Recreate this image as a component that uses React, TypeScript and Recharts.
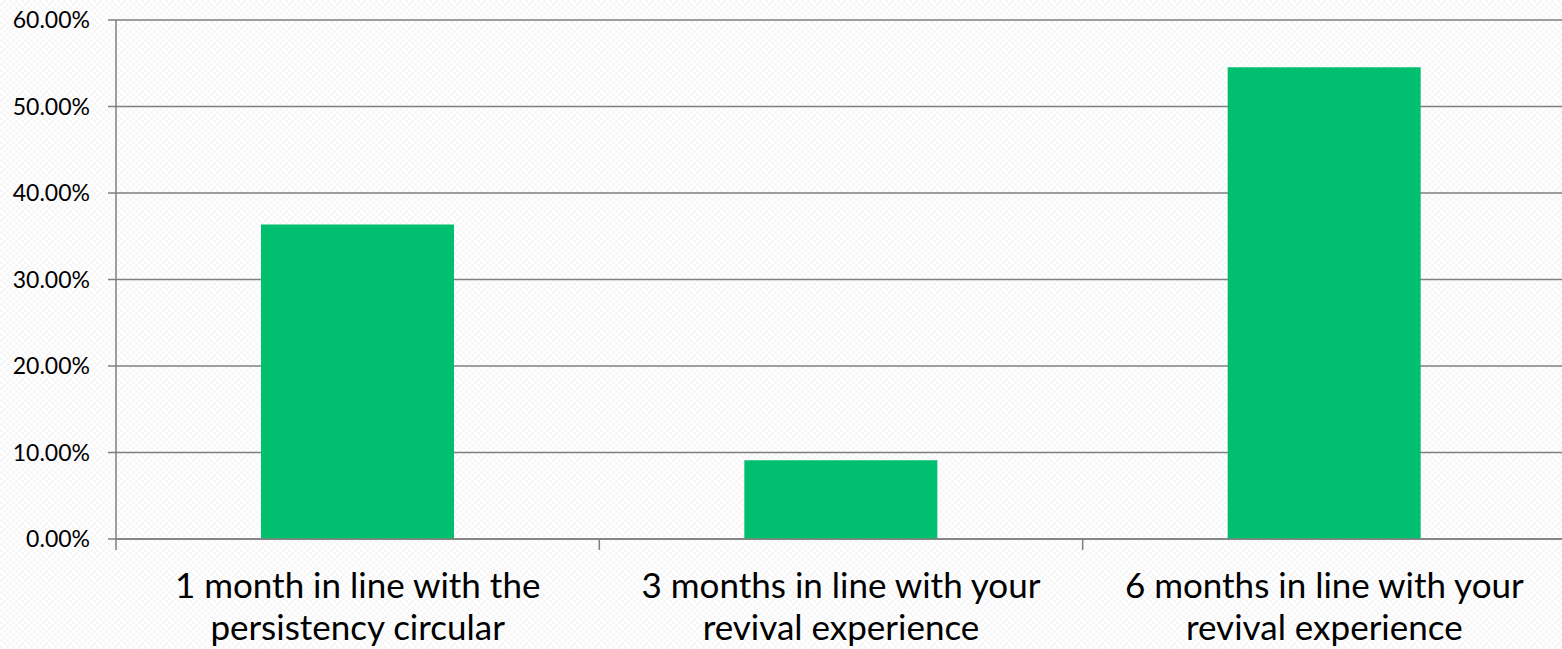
import React from "react";
import { BarChart, Bar, XAxis, YAxis, CartesianGrid } from "recharts";

const categories = [
  "1 month in line with the persistency circular",
  "3 months in line with your revival experience",
  "6 months in line with your revival experience",
];
const labelLines = [
  ["1 month in line with the", "persistency circular"],
  ["3 months in line with your", "revival experience"],
  ["6 months in line with your", "revival experience"],
];
const values = [0.3636, 0.0909, 0.5455];
const yTicks = [0, 0.1, 0.2, 0.3, 0.4, 0.5, 0.6];

const data = categories.map((c, i) => ({ name: c, idx: i, value: values[i] }));

const AXIS = "#7f7f7f";
const FONT = "Lato, 'Open Sans', sans-serif";

const CategoryTick = (props: any) => {
  const { x, y, payload, index } = props;
  const i = typeof payload?.index === "number" ? payload.index : index;
  const half = typeof payload?.offset === "number" ? payload.offset : 241.67;
  const lines = labelLines[i] || [String(payload?.value ?? "")];
  return (
    <g>
      <line x1={x - half} x2={x - half} y1={y} y2={y + 11} stroke={AXIS} strokeWidth={1.5} />
      <text x={x} y={y} textAnchor="middle" fontFamily={FONT} fontSize={35} fill="#000">
        {lines.map((l, k) => (
          <tspan key={k} x={x} y={y + 59 + k * 42}>
            {l}
          </tspan>
        ))}
      </text>
    </g>
  );
};

export default function App() {
  return (
    <div
      style={{
        position: "absolute",
        left: 0,
        top: 0,
        width: 1562,
        height: 649,
        overflow: "hidden",
        backgroundColor: "#ffffff",
        backgroundImage:
          "repeating-conic-gradient(#f7f7f7 0% 25%, #ffffff 0% 50%)",
        backgroundSize: "6px 6px",
      }}
    >
      <BarChart
        width={1570}
        height={649}
        data={data}
        margin={{ top: 20, right: 4, left: 0, bottom: 0 }}
        barCategoryGap="30%"
      >
        <CartesianGrid vertical={false} stroke={AXIS} strokeWidth={1.5} />
        <XAxis
          dataKey="name"
          height={110}
          interval={0}
          tickLine={false}
          tickSize={0}
          tickMargin={0}
          axisLine={{ stroke: AXIS, strokeWidth: 1.5 }}
          tick={<CategoryTick />}
        />
        <YAxis
          width={116}
          domain={[0, 0.6]}
          ticks={yTicks}
          interval={0}
          tickSize={8}
          tickMargin={18}
          tickLine={{ stroke: AXIS, strokeWidth: 1.5 }}
          axisLine={{ stroke: AXIS, strokeWidth: 1.5 }}
          tickFormatter={(v: number) => (v * 100).toFixed(2) + "%"}
          tick={{ fill: "#000", fontSize: 23, fontFamily: FONT }}
        />
        <Bar dataKey="value" fill="#00BF6F" isAnimationActive={false} />
      </BarChart>
    </div>
  );
}
